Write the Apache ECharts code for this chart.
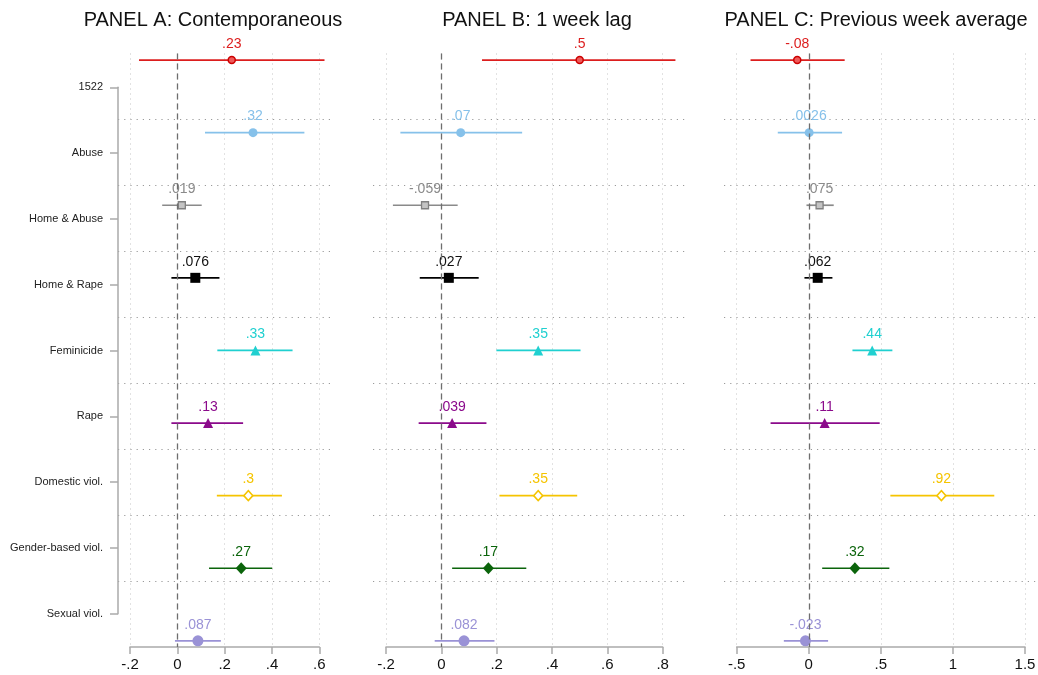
<!DOCTYPE html>
<html>
<head>
<meta charset="utf-8">
<script src="https://cdn.jsdelivr.net/npm/echarts@6/dist/echarts.min.js"></script>
<style>html,body{margin:0;padding:0;background:#fff}#c{width:1038px;height:675px}</style>
</head>
<body>
<div id="c"></div>
<script>
// ---- data ----
const categories = ['1522','Abuse','Home & Abuse','Home & Rape','Feminicide','Rape','Domestic viol.','Gender-based viol.','Sexual viol.'];
const panelTitles = ['PANEL A: Contemporaneous','PANEL B: 1 week lag','PANEL C: Previous week average'];

const A_est = [0.23, 0.32, 0.019, 0.076, 0.33, 0.13, 0.3, 0.27, 0.087];
const A_lo  = [-0.162, 0.117, -0.064, -0.025, 0.169, -0.025, 0.167, 0.134, -0.010];
const A_hi  = [0.622, 0.537, 0.103, 0.178, 0.487, 0.278, 0.442, 0.401, 0.184];

const B_est = [0.5, 0.07, -0.059, 0.027, 0.35, 0.039, 0.35, 0.17, 0.082];
const B_lo  = [0.147, -0.148, -0.175, -0.078, 0.199, -0.082, 0.21, 0.039, -0.024];
const B_hi  = [0.846, 0.292, 0.059, 0.135, 0.503, 0.163, 0.491, 0.307, 0.192];

const C_est = [-0.08, 0.0026, 0.075, 0.062, 0.44, 0.11, 0.92, 0.32, -0.023];
const C_lo  = [-0.404, -0.215, -0.016, -0.030, 0.303, -0.265, 0.566, 0.093, -0.173];
const C_hi  = [0.249, 0.231, 0.173, 0.164, 0.58, 0.492, 1.287, 0.559, 0.134];

const A_ticks = [-0.2, 0.6, 0.2];
const B_ticks = [-0.2, 0.8, 0.2];
const C_ticks = [-0.5, 1.5, 0.5];

// ---- styles ----
const FONT = 'Liberation Sans, Arial, Helvetica, sans-serif';
const lineColors = ['#dc1e1e','#86c1ea','#8a8a8a','#000000','#20d0d0','#8b0a8b','#f5c400','#0b640b','#9a92d6'];
const labelColors = ['#dc1e1e','#86c1ea','#8a8a8a','#111111','#20d0d0','#8b0a8b','#f5c400','#0b640b','#9a92d6'];
const markers = [
  {symbol:'circle', size:7, fill:'#ee5a5a', border:'#cc0000', bw:1.5},
  {symbol:'circle', size:9, fill:'#86c1ea', border:'#86c1ea', bw:0},
  {symbol:'rect', size:7, fill:'#c4c4c4', border:'#808080', bw:1.3},
  {symbol:'rect', size:10, fill:'#000000', border:'#000000', bw:0},
  {symbol:'triangle', size:10, fill:'#20d0d0', border:'#20d0d0', bw:0},
  {symbol:'triangle', size:10, fill:'#8b0a8b', border:'#8b0a8b', bw:0},
  {symbol:'diamond', size:[9,10], fill:'#ffffff', border:'#f5c400', bw:1.6},
  {symbol:'diamond', size:[11,12], fill:'#0b640b', border:'#0b640b', bw:0},
  {symbol:'circle', size:11, fill:'#9a92d6', border:'#9a92d6', bw:0}
];
const fmt = v => { const s = String(+(+v).toFixed(6)); return s.replace(/^(-?)0\./, '$1.'); };

const TOP = 53.5, H = 593.5;
const panels = [
  {est:A_est, lo:A_lo, hi:A_hi, ticks:A_ticks, data:[130, 189.3], split:[118, 215], title:213},
  {est:B_est, lo:B_lo, hi:B_hi, ticks:B_ticks, data:[386, 276.7], split:[373, 314], title:537},
  {est:C_est, lo:C_lo, hi:C_hi, ticks:C_ticks, data:[736.7, 288.3], split:[724, 314], title:876}
];

const grid = [], xAxis = [], yAxis = [], series = [], graphic = [];
panels.forEach((p, k) => {
  // data grid
  const gd = grid.length;
  grid.push({left:p.data[0], top:TOP, width:p.data[1], height:H, outerBoundsMode:'none', containLabel:false});
  xAxis.push({
    type:'value', gridIndex:gd, position:'bottom', min:p.ticks[0], max:p.ticks[1], interval:p.ticks[2],
    axisLine:{show:true, onZero:false, lineStyle:{color:'#aaaaaa', width:1.5}},
    axisTick:{show:true, length:7, lineStyle:{color:'#aaaaaa', width:1.5}},
    axisLabel:{fontSize:15, color:'#111', fontFamily:FONT, margin:10, formatter:fmt},
    splitLine:{show:true, lineStyle:{color:'#c4c4c4', type:[1,4], width:1}}
  });
  yAxis.push({type:'value', gridIndex:gd, min:-0.09, max:8.085, inverse:true, show:false});
  const xi = xAxis.length-1, yi = yAxis.length-1;

  // split-line grid
  const gs = grid.length;
  grid.push({left:p.split[0], top:TOP, width:p.split[1], height:H, outerBoundsMode:'none', containLabel:false});
  xAxis.push({type:'value', gridIndex:gs, min:0, max:1, show:false});
  yAxis.push({
    type:'value', gridIndex:gs, min:0, max:categories.length, interval:1,
    axisLine:{show:false}, axisTick:{show:false}, axisLabel:{show:false},
    splitLine:{show:true, showMinLine:false, showMaxLine:false, lineStyle:{color:'#9a9a9a', type:[1.2,5], width:1}}
  });

  if (k === 0) {
    const gl = grid.length;
    grid.push({left:118, top:87.3, width:215, height:526.4, outerBoundsMode:'none', containLabel:false});
    xAxis.push({type:'value', gridIndex:gl, min:0, max:1, show:false});
    yAxis.push({
      type:'category', gridIndex:gl, data:categories, boundaryGap:false, inverse:true,
      axisLine:{show:true, onZero:false, lineStyle:{color:'#aaaaaa', width:1.5}},
      axisTick:{show:true, length:8, interval:0, lineStyle:{color:'#aaaaaa', width:1.5}},
      axisLabel:{show:true, interval:0, fontSize:11, color:'#222', fontFamily:FONT, margin:15},
      splitLine:{show:false}
    });
  }

  // CI lines
  series.push({
    type:'custom', xAxisIndex:xi, yAxisIndex:yi, z:2, clip:false, silent:true,
    data: categories.map((c, i) => [i, p.lo[i], p.hi[i]]),
    encode:{x:[1,2], y:0},
    renderItem: (params, api) => {
      const i = api.value(0);
      const a = api.coord([api.value(1), i]);
      const b = api.coord([api.value(2), i]);
      return {type:'line', shape:{x1:a[0], y1:a[1], x2:b[0], y2:b[1]},
              style:{stroke:lineColors[i], lineWidth:1.7}};
    },
    markLine:{silent:true, symbol:'none', label:{show:false}, animation:false,
      lineStyle:{color:'#6e6e6e', type:[6,4], width:1.3}, data:[{xAxis:0}]}
  });
  // point estimates
  series.push({
    type:'scatter', xAxisIndex:xi, yAxisIndex:yi, z:3, silent:true,
    data: categories.map((c, i) => ({
      value:[p.est[i], i],
      symbol:markers[i].symbol, symbolSize:markers[i].size,
      itemStyle:{color:markers[i].fill, borderColor:markers[i].border, borderWidth:markers[i].bw, opacity:1},
      label:{color:labelColors[i]}
    })),
    label:{show:true, position:'inside', offset:[0,-16], fontSize:14, fontFamily:FONT,
      formatter: prm => fmt(prm.value[0])}
  });

  graphic.push({type:'text', x:p.title, y:20, silent:true,
    style:{text:panelTitles[k], align:'center', verticalAlign:'middle', textAlign:'center', textVerticalAlign:'middle',
      fontSize:20, fontFamily:FONT, fill:'#111'}});
});

const chart = echarts.init(document.getElementById('c'), null, {renderer:'canvas'});
chart.setOption({animation:false, backgroundColor:'#ffffff', grid, xAxis, yAxis, series, graphic});
</script>
</body>
</html>
